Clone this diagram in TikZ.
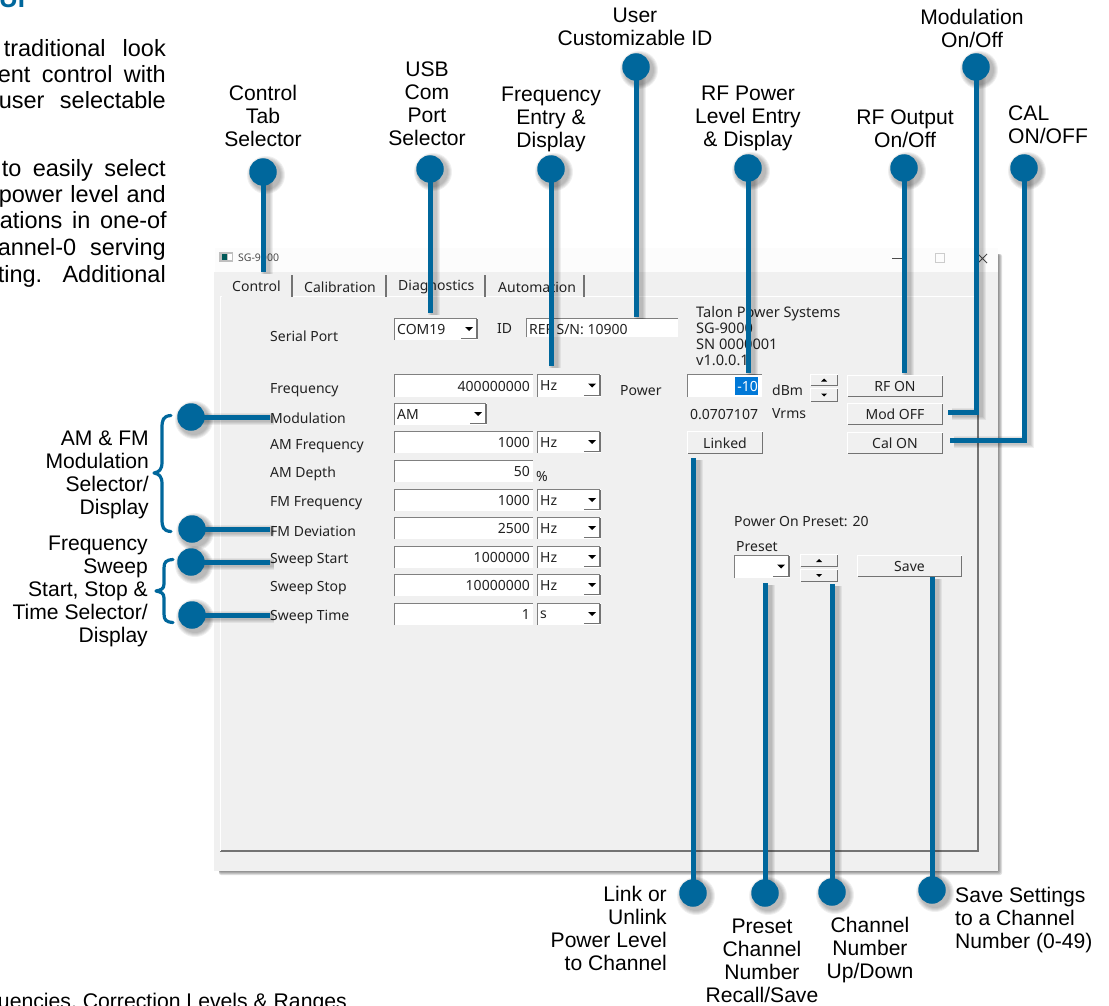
\documentclass[tikz,border=0pt]{standalone}
\usepackage{fontspec}
\setmainfont{Liberation Sans}
\newfontfamily\uifam{Noto Sans}
\usetikzlibrary{calc}
\definecolor{calloutblue}{HTML}{00679C}
\definecolor{winbg}{HTML}{F0F0F0}
\definecolor{uitextc}{HTML}{222222}
\definecolor{selblue}{HTML}{0078D7}
\pgfdeclarelayer{windowlayer}
\pgfdeclarelayer{shadowlayer}
\pgfdeclarelayer{toplayer}
\pgfsetlayers{windowlayer,main,shadowlayer,toplayer}
\tikzset{
  x=1pt,y=-1pt,
  calloutdot/.style={circle,fill=calloutblue,minimum size=27.5pt,inner sep=0pt},
  connector/.style={draw=calloutblue,line width=5pt},
  labelc/.style={font=\fontsize{21.1}{23}\selectfont,align=center,inner sep=0pt,text=black},
  labelr/.style={labelc,align=right,anchor=east},
  labell/.style={labelc,align=left,anchor=west},
  bodytxt/.style={font=\fontsize{23.5}{26}\selectfont,inner sep=0pt,anchor=base east,text=black},
  uitxt/.style={font=\uifam\fontsize{14}{16}\selectfont,inner sep=0pt,text=uitextc,yshift=-1.5pt},
  uil/.style={uitxt,anchor=west},
  uic/.style={uitxt,anchor=center},
  bracket/.style={draw=calloutblue,line width=3.2pt,line cap=round,line join=round},
  insetd/.style={draw=black!50,line width=1.4pt},
  outd/.style={draw=black!55,line width=1.4pt},
  outl/.style={draw=white,line width=1.2pt},
}
% callout dot with its soft shadow
\newcommand\calldot[3]{%
  \begin{pgfonlayer}{toplayer}
  \node[calloutdot] (#1) at (#2,#3) {};
  \end{pgfonlayer}
  \begin{pgfonlayer}{shadowlayer}
    \foreach \r in {19,18,17,16,15}{\fill[black,opacity=.06] (#2+3,#3+3) circle (\r pt);}
  \end{pgfonlayer}}
% connector with its soft shadow; #1 is the path between named points
\newcommand\callline[1]{%
  \begin{pgfonlayer}{shadowlayer}
    \foreach \w in {12,10,8,6}{\draw[black,opacity=.06,line width=\w pt,transform canvas={xshift=3.5pt,yshift=-2pt}] #1;}
  \end{pgfonlayer}
  \begin{pgfonlayer}{toplayer}
  \draw[connector] #1;
  \end{pgfonlayer}}
% entry: name x1 y1 x2 y2 text
\newcommand\uientry[6]{%
  \fill[white] (#2,#3) rectangle (#4,#5);
  \draw[insetd] (#2+.7,#5) -- (#2+.7,#3+.7) -- (#4,#3+.7);
  \node[uitxt,anchor=east,yshift=1pt] (#1) at (#4-3,{(#3+#5)/2}) {#6};}
% combo: name x1 y1 x2 y2 text
\newcommand\uicombo[6]{%
  \fill[white] (#2,#3) rectangle (#4,#5);
  \draw[insetd] (#2+.7,#5) -- (#2+.7,#3+.7) -- (#4-1,#3+.7);
  \draw[outd] (#4-17,#5-1.5) -- (#4-1,#5-1.5) -- (#4-1,#3+1);
  \fill[black] (#4-13,{(#3+#5)/2-2}) -- (#4-5,{(#3+#5)/2-2}) -- (#4-9,{(#3+#5)/2+2}) -- cycle;
  \node[uil,yshift=1pt] (#1) at (#2+3,{(#3+#5)/2}) {#6};}
% button: name x1 y1 x2 y2 text
\newcommand\uibutton[6]{%
  \draw[outl] (#2+.6,#5) -- (#2+.6,#3+.6) -- (#4,#3+.6);
  \draw[outd] (#2+.5,#5-.7) -- (#4-.7,#5-.7) -- (#4-.7,#3+.5);
  \node[uic,yshift=1pt] (#1) at ({(#2+#4)/2},{(#3+#5)/2}) {#6};}
% spinner half: x1 y1 x2 y2 direction(+1 up,-1 down)
\newcommand\uispin[5]{%
  \draw[outl] (#1+.6,#4) -- (#1+.6,#2+.6) -- (#3,#2+.6);
  \draw[draw=black!55,line width=1.1pt] (#1+.5,#4-.6) -- (#3-.6,#4-.6) -- (#3-.6,#2+.5);
  \fill[black] ({(#1+#3)/2-3},{(#2+#4)/2+#5*1.5}) -- ({(#1+#3)/2+3},{(#2+#4)/2+#5*1.5}) -- ({(#1+#3)/2},{(#2+#4)/2-#5*1.5}) -- cycle;}
\begin{document}
\begin{tikzpicture}
\useasboundingbox (0,0) rectangle (1109,1006);
\clip (0,0) rectangle (1109,1006);

% ---- window
\begin{pgfonlayer}{windowlayer}
  \fill[white] (0,0) rectangle (1109,1006);
  % page text behind the figure
  \node[font=\bfseries\fontsize{26}{28}\selectfont,text=calloutblue,inner sep=0pt,anchor=base west] (ttl) at (-1,8) {UI};
  \node[bodytxt] (b1) at (166,57) {\makebox[162pt][s]{traditional look}};
  \node[bodytxt] (b2) at (166,83) {\makebox[168pt][s]{ent control with}};
  \node[bodytxt] (b3) at (166,109) {\makebox[167pt][s]{user selectable}};
  \node[bodytxt] (b4) at (166,177) {\makebox[164pt][s]{to easily select}};
  \node[bodytxt] (b5) at (166,203) {\makebox[167pt][s]{power level and}};
  \node[bodytxt] (b6) at (167,229) {\makebox[167pt][s]{ations in one-of}};
  \node[bodytxt] (b7) at (166,255) {\makebox[168pt][s]{annel-0 serving}};
  \node[bodytxt] (b8) at (166,282) {\makebox[168pt][s]{ting. Additional}};
  \node[font=\fontsize{21.2}{24}\selectfont,inner sep=0pt,anchor=base east] (b9) at (347,1008) {uencies, Correction Levels \& Ranges};
  \foreach \d in {0,1,2,3,4}{\fill[black,opacity=.12,rounded corners=2pt] (219,254) rectangle (998+\d,871+\d);}
  \fill[white!99!black] (215,248) rectangle (998,272);
  \fill[winbg] (214,272) rectangle (998,871);
\end{pgfonlayer}
\begin{scope}
  % title bar
  \fill[black!25] (219,252) rectangle (233,262);
  \fill[teal!70!black] (222,254) rectangle (227,260);
  \fill[white] (228,254) rectangle (232,260);
  \node[font=\uifam\fontsize{10.5}{12}\selectfont,text=black!70,inner sep=0pt,anchor=west] (wint) at (238,258) {SG-9000};
  \draw[black!70,line width=.9pt] (892,258) -- (902,258);
  \draw[black!20,line width=.9pt] (935,253) rectangle (944,262);
  \draw[black!70,line width=.9pt] (978,254) -- (987,263) (987,254) -- (978,263);
  % tab panel frame
  \draw[white,line width=1pt] (220,296.5) -- (978,296.5);
  \draw[black!55,line width=1.3pt] (220,851) -- (978,851) -- (978,296);
  \draw[white,line width=1pt] (220,296) -- (220,851);
  % tabs
  \fill[winbg] (222,274) rectangle (292,298);
  \node[uil] (tab1) at (232,285) {Control};
  \node[uil] (tab2) at (304,286) {Calibration};
  \node[uil] (tab3) at (398,286) {Diagnostics};
  \node[uil] (tab4) at (498,286) {Automation};
  \foreach \x in {292,386,485,584}{\draw[black!55,line width=1.2pt] (\x,275) -- (\x,297);}
  % labels
  \node[uil] (lser) at (270,335) {Serial Port};
  \node[uil] (lfrq) at (270,389) {Frequency};
  \node[uil] (lmod) at (270,417) {Modulation};
  \node[uil] (lamf) at (270,445) {AM Frequency};
  \node[uil] (lamd) at (270,472) {AM Depth};
  \node[uil] (lfmf) at (270,502) {FM Frequency};
  \node[uil] (lfmd) at (270,530) {FM Deviation};
  \node[uil] (lsst) at (270,559) {Sweep Start};
  \node[uil] (lssp) at (270,587) {Sweep Stop};
  \node[uil] (lstm) at (270,616) {Sweep Time};
  % row widgets
  \uicombo{com}{394}{318}{478}{340}{COM19}
  \node[uil] (lid) at (497,327) {ID};
  \fill[white] (526,318) rectangle (678,337);
  \draw[insetd] (526.7,337) -- (526.7,318.7) -- (678,318.7);
  \node[uil] (idv) at (529,328) {REF S/N: 10900};
  \node[uitxt,anchor=north west,align=left,font=\uifam\fontsize{14.6}{16}\selectfont] (talon) at (696,305) {Talon Power Systems\\SG-9000\\SN 0000001\\v1.0.0.1};
  \uientry{efrq}{394}{374}{533}{397}{400000000}
  \uicombo{ufrq}{537}{374}{601}{397}{Hz}
  \uicombo{cmod}{394}{403}{487}{425}{AM}
  \uientry{eamf}{394}{431}{533}{453}{1000}
  \uicombo{uamf}{537}{431}{601}{453}{Hz}
  \uientry{eamd}{394}{460}{533}{482}{50}
  \node[uil] (pct) at (536,475) {\%};
  \uientry{efmf}{394}{489}{533}{511}{1000}
  \uicombo{ufmf}{537}{489}{601}{511}{Hz}
  \uientry{efmd}{394}{517}{533}{539}{2500}
  \uicombo{ufmd}{537}{517}{601}{539}{Hz}
  \uientry{esst}{394}{546}{533}{568}{1000000}
  \uicombo{usst}{537}{546}{601}{568}{Hz}
  \uientry{essp}{394}{574}{533}{596}{10000000}
  \uicombo{ussp}{537}{574}{601}{596}{Hz}
  \uientry{estm}{394}{603}{533}{625}{1}
  \uicombo{ustm}{537}{603}{601}{625}{s}
  % power block
  \node[uil] (lpow) at (620,389) {Power};
  \fill[white] (687,374) rectangle (762,397);
  \draw[insetd] (687.7,397) -- (687.7,374.7) -- (762,374.7);
  \fill[selblue] (735,377) rectangle (758,395);
  \node[uitxt,text=white,anchor=east,yshift=1pt] (pval) at (758,386) {-10};
  \node[uil] (ldbm) at (772,389) {dBm};
  \uispin{810}{374}{838}{386}{1}
  \uispin{810}{388}{838}{402}{-1}
  \uibutton{brf}{847}{375}{943}{397}{RF ON}
  \uibutton{bmod}{847}{403}{943}{425}{Mod OFF}
  \uibutton{bcal}{847}{432}{943}{454}{Cal ON}
  \node[uil] (lvr) at (690,413) {0.0707107};
  \node[uil] (lvr2) at (772,412) {Vrms};
  \uibutton{blnk}{687}{431}{763}{454}{Linked}
  % preset block
  \node[uil] (lpop) at (734,520) {Power On Preset: 20};
  \node[uil] (lpre) at (736,545) {Preset};
  \uicombo{cpre}{734}{555}{790}{578}{}
  \uispin{800}{554}{838}{567}{1}
  \uispin{800}{569}{838}{582}{-1}
  \uibutton{bsav}{857}{555}{962}{577}{Save}
\end{scope}

% ---- free ends of connectors
\coordinate (eTab) at (263,272);
\coordinate (eUsb) at (430,313);
\coordinate (eFrq) at (551,366);
\coordinate (eId) at (636,317);
\coordinate (ePow) at (748,373);
\coordinate (eRf) at (904,373);
\coordinate (eMod) at (948,412);
\coordinate (eCal) at (950,440);
\coordinate (eLnk) at (693,458);
\coordinate (ePre) at (765,583);
\coordinate (eChn) at (832,584);
\coordinate (eSav) at (932,577);
\coordinate (eM1) at (270,417);
\coordinate (eM2) at (270,529);
\coordinate (eS1) at (270,562);
\coordinate (eS2) at (270,615);

% ---- callouts
\calldot{dTab}{263}{172}
\calldot{dUsb}{430}{169}
\calldot{dFrq}{551}{169}
\calldot{dId}{636}{67}
\calldot{dPow}{748}{168}
\calldot{dRf}{904}{168}
\calldot{dMod}{976}{67}
\calldot{dCal}{1024}{168}
\calldot{dLnk}{693}{893}
\calldot{dPre}{765}{893}
\calldot{dChn}{832}{892}
\calldot{dSav}{932}{890}
\calldot{dM1}{191}{417}
\calldot{dM2}{192}{529}
\calldot{dS1}{191}{562}
\calldot{dS2}{192}{615}

\callline{(dTab.center) -- (eTab)}
\callline{(dUsb.center) -- (eUsb)}
\callline{(dFrq.center) -- (eFrq)}
\callline{(dId.center) -- (eId)}
\callline{(dPow.center) -- (ePow)}
\callline{(dRf.center) -- (eRf)}
\callline{(dMod.center) |- (eMod)}
\callline{(dCal.center) |- (eCal)}
\callline{(dLnk.center) -- (eLnk)}
\callline{(dPre.center) -- (ePre)}
\callline{(dChn.center) -- (eChn)}
\callline{(dSav.center) -- (eSav)}
\callline{(dM1.center) -- (eM1)}
\callline{(dM2.center) -- (eM2)}
\callline{(dS1.center) -- (eS1)}
\callline{(dS2.center) -- (eS2)}

% ---- braces
\draw[bracket] (171,415.5) .. controls (163,416) and (162,420) .. (162,428) -- (162,462) .. controls (162,470) and (159,472) .. (154,473) .. controls (159,474) and (162,476) .. (162,484) -- (162,519) .. controls (162,527) and (163,531) .. (171,531.5);
\draw[bracket] (173,559.5) .. controls (166,560) and (164,562) .. (164,568) -- (164,584) .. controls (164,589) and (161,590) .. (156,591) .. controls (161,592) and (164,593) .. (164,598) -- (164,614) .. controls (164,620) and (166,622) .. (173,622.5);

% ---- callout labels
\node[labelc] (tId) at (635,27) {User\\Customizable ID};
\node[labelc] (tMod) at (972,28) {Modulation\\On/Off};
\node[labelc] (tTab) at (263,116) {Control\\Tab\\Selector};
\node[labelc] (tUsb) at (427,104) {USB\\Com\\Port\\Selector};
\node[labelc] (tFrq) at (551,119) {Frequency\\Entry \&\\Display};
\node[labelc] (tPow) at (748,118) {RF Power\\Level Entry\\\& Display};
\node[labelc] (tRf) at (905,129) {RF Output\\On/Off};
\node[labell] (tCal) at (1008,125) {CAL\\ON/OFF};
\node[labelr] (tAm) at (149,475) {AM \& FM\\Modulation\\Selector/\\Display};
\node[labelr] (tSw) at (148,591) {Frequency\\Sweep\\Start, Stop \&\\Time Selector/\\Display};
\node[labelr] (tLnk) at (667,928) {Link or\\Unlink\\Power Level\\to Channel};
\node[labelc] (tPre) at (762,961) {Preset\\Channel\\Number\\Recall/Save};
\node[labelc] (tChn) at (870,950) {Channel\\Number\\Up/Down};
\node[labell] (tSav) at (955,920) {Save Settings\\to a Channel\\Number (0-49)};
\end{tikzpicture}
\end{document}
